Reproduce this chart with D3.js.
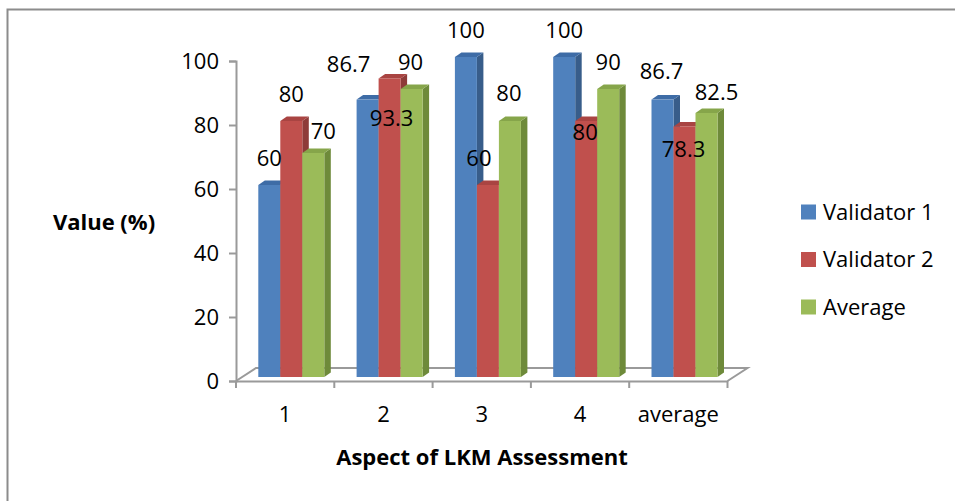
<!DOCTYPE html>
<html>
<head>
<meta charset="utf-8">
<script src="https://cdn.jsdelivr.net/npm/d3@7"></script>
<style>
  body { margin: 0; background: #fff; }
  text { font-family: "Open Sans", sans-serif; }
</style>
</head>
<body>
<script>
// data
const categories = ['1', '2', '3', '4', 'average'];
const seriesNames = ['Validator 1', 'Validator 2', 'Average'];
const validator1 = [60, 86.7, 100, 100, 86.7];
const validator2 = [80, 93.3, 60, 80, 78.3];
const average = [70, 90, 80, 90, 82.5];
const yTicks = [0, 20, 40, 60, 80, 100];

// label nudges (px) so the labels sit where the original put them
const labelNudge = [
  [[0, 0], [-19, -8], [0, 0], [0, 0], [-1, -1]],
  [[0, 0], [2, 67], [-9, 0], [-1, 38], [-1, 50]],
  [[10, 5], [-1, 0], [-1, -1], [0, 0], [10, 6]]
];

const width = 955;
const height = 501;
const fontSize = 22;

// front plane of the 3d box
const frontLeft = 236;
const frontRight = 727.5;
const frontBottom = 381;
const frontTop = 61;
// floor depth
const depthX = 20;
const depthY = -13;
// bars sit a little behind the front
const barShiftY = -4;
// bar cap depth
const capX = 6.5;
const capY = -4.5;

const colors = [
  {front: '#4F81BD', side: '#385D8A', top: '#3E6CA6'},
  {front: '#C0504D', side: '#8E3B39', top: '#A94442'},
  {front: '#9BBB59', side: '#6E8A3A', top: '#86A54A'}
];

const svg = d3.select('body').append('svg')
  .attr('width', width)
  .attr('height', height);

// outer frame
svg.append('rect')
  .attr('x', 7.5).attr('y', 9.5)
  .attr('width', width + 10).attr('height', height + 10)
  .attr('fill', 'none')
  .attr('stroke', '#8c8c8c')
  .attr('stroke-width', 2);

const x = d3.scaleBand()
  .domain(categories)
  .range([frontLeft, frontRight]);

const y = d3.scaleLinear()
  .domain([0, 100])
  .range([frontBottom, frontTop]);

const inner = d3.scaleBand()
  .domain(d3.range(seriesNames.length))
  .range([0, 66]);

const axisColor = '#9a9a9a';

// floor
const floor = d3.path();
floor.moveTo(frontLeft, frontBottom);
floor.lineTo(frontLeft + depthX, frontBottom + depthY);
floor.lineTo(frontRight + depthX, frontBottom + depthY);
floor.lineTo(frontRight, frontBottom);
svg.append('path')
  .attr('d', floor.toString())
  .attr('fill', 'none')
  .attr('stroke', axisColor)
  .attr('stroke-width', 2);

// y axis
const yAxis = svg.append('g')
  .attr('transform', `translate(${frontLeft},0)`)
  .call(d3.axisLeft(y).tickValues(yTicks).tickSize(7).tickPadding(10));
yAxis.select('.domain').attr('stroke', axisColor).attr('stroke-width', 2);
yAxis.selectAll('.tick line').attr('stroke', axisColor).attr('stroke-width', 2);
yAxis.selectAll('.tick text')
  .attr('font-size', fontSize)
  .attr('font-family', '"Open Sans", sans-serif')
  .attr('fill', '#000');

// x axis
const xAxis = svg.append('g')
  .attr('transform', `translate(0,${frontBottom})`)
  .call(d3.axisBottom(x).tickSizeOuter(0).tickSize(0).tickPadding(25));
xAxis.select('.domain').attr('stroke', axisColor).attr('stroke-width', 2);
xAxis.selectAll('.tick text')
  .attr('font-size', fontSize)
  .attr('font-family', '"Open Sans", sans-serif')
  .attr('fill', '#000');
// category tick marks at band edges
xAxis.selectAll('line.edge')
  .data(categories.concat(['end']))
  .enter()
  .append('line')
  .attr('class', 'edge')
  .attr('x1', (d, i) => frontLeft + i * x.step())
  .attr('x2', (d, i) => frontLeft + i * x.step())
  .attr('y1', 0)
  .attr('y2', 7)
  .attr('stroke', axisColor)
  .attr('stroke-width', 2);

// bars
const allSeries = [validator1, validator2, average];
const bars = [];
allSeries.forEach((vals, s) => {
  vals.forEach((v, c) => {
    bars.push({s: s, c: c, v: v});
  });
});

const base = y(0) + barShiftY;
const bx = d => x(categories[d.c]) + 22.3 + inner(d.s);
const bw = inner.bandwidth();
const btop = d => y(d.v) + barShiftY;

const barG = svg.append('g');
// draw in order so that right-hand bars cover sides of left-hand ones
const barSel = barG.selectAll('g.bar')
  .data(bars.slice().sort((a, b) => a.c - b.c || a.s - b.s))
  .enter()
  .append('g')
  .attr('class', 'bar');

barSel.append('path')
  .attr('fill', d => colors[d.s].side)
  .attr('d', d => {
    const x1 = bx(d) + bw;
    return `M${x1},${base}L${x1 + capX},${base + capY}L${x1 + capX},${btop(d) + capY}L${x1},${btop(d)}Z`;
  });

barSel.append('path')
  .attr('fill', d => colors[d.s].top)
  .attr('d', d => {
    const x0 = bx(d);
    const t = btop(d);
    return `M${x0},${t}L${x0 + capX},${t + capY}L${x0 + bw + capX},${t + capY}L${x0 + bw},${t}Z`;
  });

barSel.append('rect')
  .attr('x', bx)
  .attr('y', btop)
  .attr('width', bw)
  .attr('height', d => base - btop(d))
  .attr('fill', d => colors[d.s].front);

// data labels
svg.append('g').selectAll('text')
  .data(bars)
  .enter()
  .append('text')
  .attr('x', d => bx(d) + bw / 2 + labelNudge[d.s][d.c][0])
  .attr('y', d => btop(d) - 27 + labelNudge[d.s][d.c][1])
  .attr('dy', '0.35em')
  .attr('text-anchor', 'middle')
  .attr('font-size', fontSize)
  .attr('fill', '#000')
  .text(d => d.v);

// axis titles
svg.append('text')
  .attr('x', 104)
  .attr('y', 222)
  .attr('dy', '0.35em')
  .attr('text-anchor', 'middle')
  .attr('font-size', 22)
  .attr('font-weight', 'bold')
  .text('Value (%)');

svg.append('text')
  .attr('x', 482)
  .attr('y', 457)
  .attr('dy', '0.35em')
  .attr('text-anchor', 'middle')
  .attr('font-size', 22)
  .attr('font-weight', 'bold')
  .text('Aspect of LKM Assessment');

// legend
const legend = svg.append('g')
  .attr('transform', 'translate(801,212)');
const item = legend.selectAll('g')
  .data(seriesNames)
  .enter()
  .append('g')
  .attr('transform', (d, i) => `translate(0,${i * 47.5})`);
item.append('rect')
  .attr('x', 0).attr('y', -7.5)
  .attr('width', 15).attr('height', 15)
  .attr('fill', (d, i) => colors[i].front);
item.append('text')
  .attr('x', 22)
  .attr('y', 0)
  .attr('dy', '0.35em')
  .attr('font-size', fontSize)
  .text(d => d);
</script>
</body>
</html>
